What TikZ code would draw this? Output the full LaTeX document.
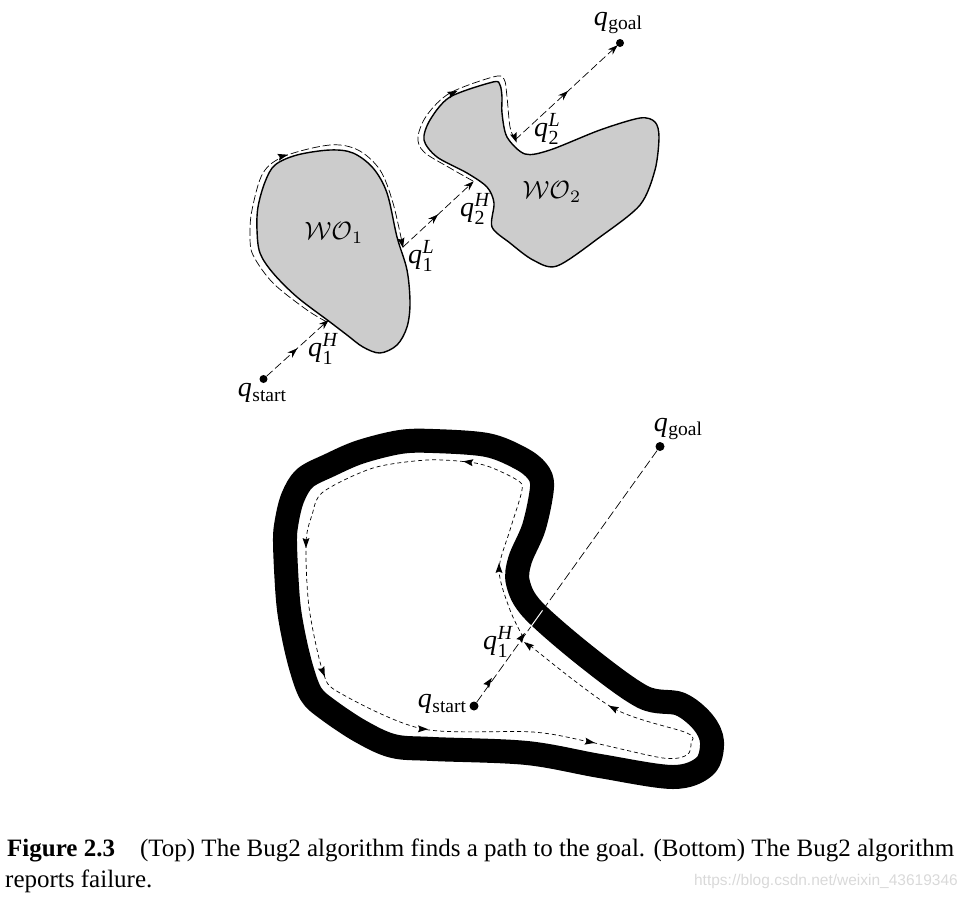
\documentclass[tikz,border=0pt]{standalone}
\usepackage{fontspec}
\setmainfont{Liberation Serif}
\newfontfamily\wmfont{Liberation Sans}
\usetikzlibrary{arrows.meta,decorations.markings}
\newcommand{\qsub}[1]{{\fontsize{28}{28}\selectfont\textit{q}\hspace{0.5pt}\raisebox{-4.5pt}{\fontsize{19.5}{20}\selectfont #1}}}
\newcommand{\qss}[2]{{\fontsize{28}{28}\selectfont\textit{q}\hspace{0.5pt}\rlap{\raisebox{-8pt}{\fontsize{20}{20}\selectfont #1}}\raisebox{10.5pt}{\fontsize{20}{20}\selectfont\textit{#2}}}}
\newcommand{\tip}[3]{\fill[shift={(#1,#2)},rotate=#3] (5pt,0pt)--(-5pt,3.5pt)--(-3.5pt,0pt)--(-5pt,-3.5pt)--cycle;}
\tikzset{
  x=1pt,y=-1pt,
  obst/.style={draw=black,line width=1.4pt,fill=black!20},
  wall/.style={draw=black,line width=24pt,line join=round},
  follow/.style={draw=black,line width=0.7pt,dash pattern=on 8pt off 3pt},
  followb/.style={draw=black,line width=0.7pt,dash pattern=on 4pt off 3pt},
  goline/.style={draw=black,line width=0.7pt,dash pattern=on 8pt off 3.5pt,-{Stealth[length=10pt,width=7pt]},shorten >=-1pt},
  midtip/.style={postaction={decorate},decoration={markings,mark=at position #1 with {\arrow{Stealth[length=10pt,width=7pt]}}}},
  dot/.style={circle,fill=black,inner sep=0pt,minimum size=#1},
  lab/.style={inner sep=0pt},
  wo/.style={inner sep=0pt,scale=2.5},
}
\begin{document}
\begin{tikzpicture}
\useasboundingbox (0,0) rectangle (967,898);
% top obstacles
\draw[obst] plot[smooth cycle,tension=0.55] coordinates {(275,165) (297,155) (330,150) (353,153) (373,168) (387,193) (397,237) (407,270) (410,303) (407,327) (397,345) (380,353) (363,347) (347,335) (330,322) (297,297) (273,273) (260,253) (257,230) (258,207) (265,182)};
\draw[obst] plot[smooth cycle,tension=0.5] coordinates {(493,82) (500,85) (502,97) (502,113) (507,137) (525,154) (550,150) (600,130) (640,118) (655,122) (659,137) (655,170) (640,205) (600,237) (557,266) (533,260) (510,243) (492,227) (494,203) (487,187) (467,173) (437,157) (424,140) (430,120) (450,97)};
% following paths
\draw[follow] plot[smooth,tension=0.55] coordinates {(327,322) (307,310) (273,283) (253,255) (250,235) (252,210) (263,173) (285,156) (330,145) (358,150) (380,170) (393,203) (403,247)};
\draw[follow] plot[smooth,tension=0.55] coordinates {(473,181) (450,168) (424,152) (418,137) (427,115) (450,93) (493,77) (504,79) (507,97) (510,127) (515,140)};
\tip{283}{156}{15}
\tip{402}{243}{-78}
\tip{453}{93}{25}
\tip{515}{138}{-70}
% top connectors
\node[dot=8pt] (s1) at (263.5,379) {};
\node[dot=8pt] (g1) at (620,43) {};
\coordinate (h1) at (328,320.5);
\coordinate (l1) at (403,247);
\coordinate (h2) at (473,182);
\coordinate (l2) at (515,140);
\draw[goline,midtip=0.5] (s1) -- (h1);
\draw[goline,midtip=0.5] (l1) -- (h2);
\draw[goline,midtip=0.52] (l2) -- (g1);
% top labels
\node[wo] (wo1) at (334,233) {$\mathcal{WO}_1$};
\node[wo] (wo2) at (552,192) {$\mathcal{WO}_2$};
\node[lab] (qs1) at (262,393) {\qsub{start}};
\node[lab] (qg1) at (618,23) {\qsub{goal}};
\node[lab] (qh1) at (323,349) {\qss{1}{H}};
\node[lab] (ql1) at (421,256) {\qss{1}{L}};
\node[lab] (qh2) at (475,209) {\qss{2}{H}};
\node[lab] (ql2) at (547,129) {\qss{2}{L}};
% bottom wall
\draw[wall] plot[smooth cycle,tension=0.55] coordinates {(288,600) (285,543) (287,520) (293,497) (305,478) (330,465) (360,452) (400,442) (433,441) (487,445) (520,458) (537,471) (542,487) (534,527) (520,560) (518,583) (533,610) (587,657) (643,697) (680,704) (703,722) (712,742) (705,766) (673,777) (600,766) (527,753) (433,749) (393,746) (360,731) (327,709) (311,694) (301,667) (293,633)};
% bottom following path
\draw[followb] plot[smooth,tension=0.5] coordinates {(523,637) (510,610) (499,570) (510,530) (522,490) (517,480) (490,467) (468,462) (427,460) (373,468) (323,492) (312,515) (306,543) (309,607) (323,672) (340,693) (423,729) (533,732) (590,742) (663,758) (687,755) (691,743) (687,733) (613,708) (527,643)};
\tip{499}{568}{90}
\tip{468}{462}{172}
\tip{306}{543}{-90}
\tip{323}{672}{-68}
\tip{423}{729}{-2}
\tip{590}{742}{-10}
\tip{613}{708}{152}
\tip{528}{645}{143}
% bottom connector
\node[dot=9pt] (s2) at (474,706) {};
\node[dot=9pt] (g2) at (660,446.5) {};
\path (s2) -- (g2) coordinate[pos=0.3] (wa) coordinate[pos=0.365] (wb);
\draw[draw=black,line width=0.7pt,dash pattern=on 9pt off 3.5pt] (s2) -- (wa);
\draw[draw=white,line width=1pt] (wa) -- (wb);
\draw[draw=black,line width=0.7pt,dash pattern=on 9pt off 3.5pt] (wb) -- (g2);
\tip{489}{682}{55}
\tip{522}{637}{55}
% bottom labels
\node[lab] (qs2) at (442,704) {\qsub{start}};
\node[lab] (qg2) at (678,429) {\qsub{goal}};
\node[lab] (qh3) at (498,642) {\qss{1}{H}};
% caption
\node[lab,anchor=base west] (cap1) at (7,856) {\fontsize{25}{25}\selectfont\textbf{Figure 2.3}\hspace{25pt}(Top) The Bug2 algorithm finds a path to the goal. (Bottom) The Bug2 algorithm};
\node[lab,anchor=base west] (cap2) at (5,887) {\fontsize{25}{25}\selectfont reports failure.};
\node[lab,anchor=base east,text=black!15] (wm) at (958,885) {\wmfont\fontsize{15.5}{16}\selectfont https://blog.csdn.net/weixin\_43619346};
\end{tikzpicture}
\end{document}
